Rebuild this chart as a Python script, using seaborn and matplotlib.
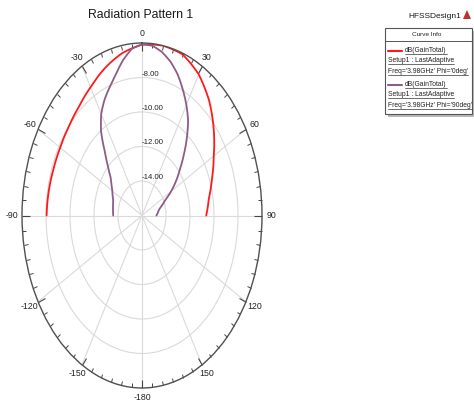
import numpy as np
import pandas as pd
import matplotlib
matplotlib.use("Agg")
import matplotlib.pyplot as plt
import seaborn as sns
from matplotlib.lines import Line2D
from matplotlib.patches import Rectangle, Polygon
from matplotlib.ticker import FixedLocator

# ---------------- data ----------------
theta_phi0 = [-90, -80, -70, -60, -50, -40, -30, -20, -10, 0, 10, 20, 30, 40, 50, 60, 70, 80, 90]
gain_phi0 = [-8.05, -8.10, -8.15, -8.13, -8.02, -7.80, -7.42, -6.92, -6.45, -6.10, -6.00, -6.07,
             -6.55, -7.30, -8.20, -9.10, -9.80, -10.35, -10.65]

theta_phi90 = [-90, -80, -70, -60, -55, -50, -45, -40, -35, -30, -25, -20, -15, -10, -5, 0,
               5, 10, 15, 20, 25, 30, 35, 40, 45, 50, 55, 60, 65, 70, 75, 80, 90]
gain_phi90 = [-13.60, -13.55, -13.45, -13.15, -12.90, -12.60, -12.00, -11.20, -10.05, -9.20,
              -8.60, -8.10, -7.55, -6.86, -6.30, -6.08, -6.12, -6.38, -6.78, -7.30, -7.95,
              -8.60, -9.30, -10.20, -11.10, -11.90, -12.55, -13.20, -13.85, -14.20, -14.50,
              -14.62, -14.80]

ring_values = [-14, -12, -10, -8]
ring_labels = ["-14.00", "-12.00", "-10.00", "-8.00"]
r_min, r_max = -16, -6
angle_ticks = [0, 30, 60, 90, 120, 150, 180, 210, 240, 270, 300, 330]
angle_labels = ["0", "30", "60", "90", "120", "150", "-180", "-150", "-120", "-90", "-60", "-30"]

title = "Radiation Pattern 1"
design_name = "HFSSDesign1"
legend_header = "Curve Info"
curve_names = ["dB(GainTotal)", "dB(GainTotal)"]
curve_setup = ["Setup1 : LastAdaptive", "Setup1 : LastAdaptive"]
curve_freq = ["Freq='3.98GHz' Phi='0deg'", "Freq='3.98GHz' Phi='90deg'"]
curve_colors = ["#FF1A1A", "#8E5C86"]

# ---------------- style ----------------
sns.set_theme(style="white")
plt.rcParams["font.family"] = ["Liberation Sans", "DejaVu Sans"]

W, H = 474, 404
fig = plt.figure(figsize=(W / 100, H / 100), dpi=100)
fig.patch.set_facecolor("white")


def fx(px):
    return px / W


def fy(py):
    return 1 - py / H


cx, cy, ax_a, ax_b = 142, 215.5, 120, 172.5
ax = fig.add_axes([fx(cx - ax_a), fy(cy + ax_b), 2 * ax_a / W, 2 * ax_b / H], projection="polar")
ax.set_aspect("auto")
ax.set_theta_zero_location("N")
ax.set_theta_direction(-1)
ax.set_facecolor("white")

df = pd.concat([
    pd.DataFrame({"theta": np.deg2rad(theta_phi0), "gain": gain_phi0, "curve": "phi0"}),
    pd.DataFrame({"theta": np.deg2rad(theta_phi90), "gain": gain_phi90, "curve": "phi90"}),
], ignore_index=True)

sns.lineplot(data=df, x="theta", y="gain", hue="curve", palette=curve_colors,
             sort=False, estimator=None, legend=False, linewidth=1.3, ax=ax)
for ln in ax.get_lines():
    ln.get_path()._interpolation_steps = 24
ax.set_xlabel("")
ax.set_ylabel("")

ax.set_ylim(r_min, r_max)
ax.set_yticks(ring_values)
ax.set_yticklabels([])
ax.set_xticks(np.deg2rad(angle_ticks))
ax.set_xticklabels(angle_labels, fontsize=6.3, color="#222222")
ax.xaxis.set_minor_locator(FixedLocator(np.deg2rad(np.arange(0, 360, 5))))
ax.tick_params(axis="x", which="both", bottom=False, top=True, labelbottom=True, labeltop=False)
ax.tick_params(axis="x", which="major", direction="in", length=6, width=0.8, color="#444444", pad=0)
ax.tick_params(axis="x", which="minor", direction="in", length=3, width=0.7, color="#444444")
ax.tick_params(axis="y", length=0)
ax.grid(True, color="#DADADA", linewidth=0.8)
ax.spines["polar"].set_color("#505050")
ax.spines["polar"].set_linewidth(1.0)

for v, lab in zip(ring_values, ring_labels):
    ax.text(0, v, lab, fontsize=5.6, color="#222222", ha="left", va="bottom")

# ---------------- title / header ----------------
fig.text(fx(141), fy(15), title, fontsize=8.8, ha="center", va="center", color="#1a1a1a")
fig.text(fx(435), fy(16), design_name, fontsize=6.0, ha="center", va="center", color="#1a1a1a")
fig.add_artist(Polygon([[fx(463), fy(19)], [fx(467), fy(10)], [fx(471), fy(19)]],
                       closed=True, transform=fig.transFigure, facecolor="#C03030", edgecolor="none"))

# ---------------- legend box ----------------
bx0, by0, bx1, by1 = 385, 28, 472, 114
fig.add_artist(Rectangle((fx(bx0 + 3), fy(by1 + 3)), (bx1 - bx0) / W, (by1 - by0) / H,
                         transform=fig.transFigure, facecolor="#B8B8B8", edgecolor="none"))
fig.add_artist(Rectangle((fx(bx0), fy(by1)), (bx1 - bx0) / W, (by1 - by0) / H,
                         transform=fig.transFigure, facecolor="white", edgecolor="#555555", linewidth=0.8))
fig.add_artist(Line2D([fx(bx0), fx(bx1)], [fy(41), fy(41)], transform=fig.transFigure,
                      color="#555555", linewidth=0.7))
fig.text(fx(427), fy(34.5), legend_header, fontsize=4.6, ha="center", va="center", color="#222222")

underlined = []
for i in range(2):
    y0 = 50.5 + i * 34
    fig.add_artist(Line2D([fx(388), fx(402)], [fy(y0), fy(y0)], transform=fig.transFigure,
                          color=curve_colors[i], linewidth=1.5))
    underlined.append(fig.text(fx(405), fy(y0), curve_names[i], fontsize=4.9, ha="left", va="center", color="#222222"))
    underlined.append(fig.text(fx(388), fy(y0 + 10.5), curve_setup[i], fontsize=4.9, ha="left", va="center", color="#222222"))
    underlined.append(fig.text(fx(388), fy(y0 + 21), curve_freq[i], fontsize=4.9, ha="left", va="center", color="#222222"))

fig.canvas.draw()
renderer = fig.canvas.get_renderer()
for t in underlined:
    bb = t.get_window_extent(renderer=renderer)
    yline = (bb.y0 + 0.5) / H
    fig.add_artist(Line2D([bb.x0 / W, bb.x1 / W], [yline, yline], transform=fig.transFigure,
                          color="#333333", linewidth=0.5))

fig.savefig("out.png", dpi=100, facecolor="white")
